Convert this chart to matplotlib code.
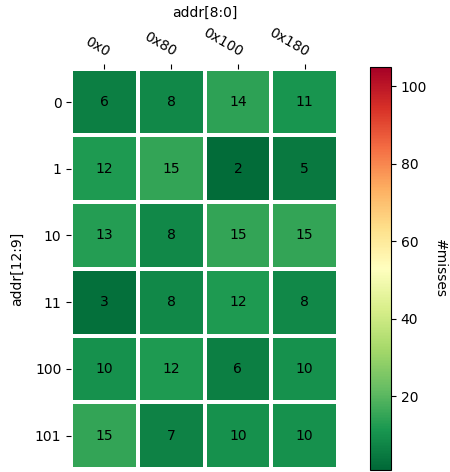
import numpy as np
import matplotlib
matplotlib.use("Agg")
import matplotlib.pyplot as plt

col_labels = ["0x0", "0x80", "0x100", "0x180"]
row_labels = ["0", "1", "10", "11", "100", "101"]
values = np.array([
    [6, 8, 14, 11],
    [12, 15, 2, 5],
    [13, 8, 15, 15],
    [3, 8, 12, 8],
    [10, 12, 6, 10],
    [15, 7, 10, 10],
])
vmin, vmax = 1, 105

fig = plt.figure(figsize=(4.5, 4.72), dpi=100)
ax = fig.add_axes([0.158, 0.0064, 0.593, 0.848])
cax = fig.add_axes([0.822, 0.004, 0.047, 0.854])

mesh = ax.pcolormesh(values, cmap="RdYlGn_r", vmin=vmin, vmax=vmax,
                     edgecolors="white", linewidth=2.6)
ax.set_xlim(0, values.shape[1])
ax.set_ylim(values.shape[0], 0)
for s in ax.spines.values():
    s.set_visible(False)

ax.set_xticks(np.arange(values.shape[1]) + 0.5)
ax.set_yticks(np.arange(values.shape[0]) + 0.5)
ax.set_yticklabels(row_labels)
ax.xaxis.tick_top()
ax.xaxis.set_label_position("top")
ax.set_xticklabels(col_labels, rotation=-30, ha="right", va="bottom",
                   rotation_mode="anchor")
ax.set_xlabel("addr[8:0]", labelpad=6)
ax.set_ylabel("addr[12:9]", labelpad=8)

for i in range(values.shape[0]):
    for j in range(values.shape[1]):
        ax.text(j + 0.5, i + 0.5, str(values[i, j]), ha="center", va="center",
                color="black", fontsize=10)

cb = fig.colorbar(mesh, cax=cax)
cb.set_ticks([20, 40, 60, 80, 100])
cb.set_label("#misses", rotation=270, labelpad=14)

fig.savefig("out.png", dpi=100)
